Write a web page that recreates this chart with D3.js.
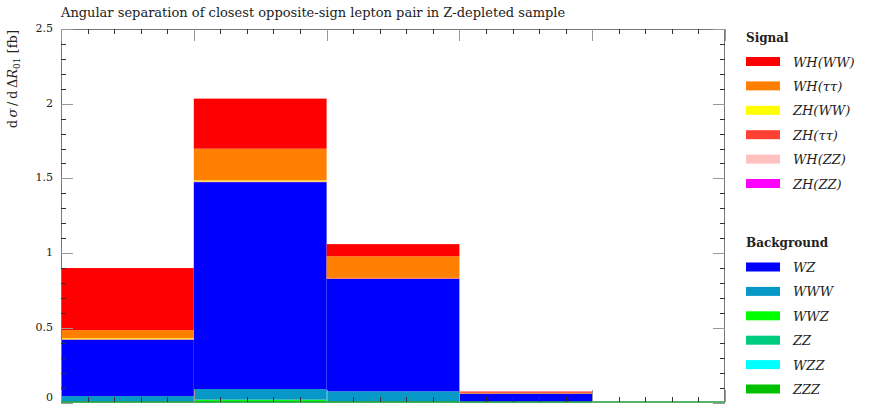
<!DOCTYPE html>
<html>
<head>
<meta charset="utf-8">
<script src="https://cdn.jsdelivr.net/npm/d3@7"></script>
<style>
  body { margin: 0; background: #fff; }
  svg text { font-family: "DejaVu Serif", "Liberation Serif", serif; fill: #222; }
</style>
</head>
<body>
<div id="chart"></div>
<script>
/*
 *  DATA
 */

var binEdges = [0, 1, 2, 3, 4, 5];

// background (bottom of the stack first)
var zzz = [0.001, 0.002, 0.001, 0.000, 0];
var wzz = [0.000, 0.001, 0.000, 0.000, 0];
var zz = [0.001, 0.004, 0.001, 0.001, 0];
var wwz = [0.003, 0.012, 0.004, 0.001, 0];
var www = [0.038, 0.071, 0.069, 0.004, 0];
var wz = [0.377, 1.385, 0.753, 0.053, 0];

// signal
var zhZZ = [0.001, 0.001, 0.000, 0.000, 0];
var whZZ = [0.001, 0.002, 0.001, 0.000, 0];
var zhTauTau = [0.002, 0.002, 0.004, 0.001, 0];
var zhWW = [0.006, 0.007, 0.001, 0.000, 0];
var whTauTau = [0.055, 0.212, 0.145, 0.007, 0];
var whWW = [0.415, 0.335, 0.081, 0.006, 0];

var signalNames = ["WH(WW)", "WH(ττ)", "ZH(WW)", "ZH(ττ)", "WH(ZZ)", "ZH(ZZ)"];
var signalColors = ["#ff0000", "#ff8000", "#ffff00", "#ff4033", "#ffc0c0", "#ff00ff"];
var signalValues = [whWW, whTauTau, zhWW, zhTauTau, whZZ, zhZZ];

var backgroundNames = ["WZ", "WWW", "WWZ", "ZZ", "WZZ", "ZZZ"];
var backgroundColors = ["#0000ff", "#0898c8", "#00ff00", "#00cc80", "#00ffff", "#00c000"];
var backgroundValues = [wz, www, wwz, zz, wzz, zzz];

var yTicks = [0, 0.5, 1, 1.5, 2, 2.5];

var titleText = "Angular separation of closest opposite-sign lepton pair in Z-depleted sample";


/*
 *  CHART
 */

var width = 872;
var height = 405;

var margin = {
    top: 29,
    bottom: 3,
    left: 61,
    right: 147
};

var innerW = width - margin.left - margin.right;
var innerH = height - margin.top - margin.bottom;

var svg = d3.select('#chart')
    .append('svg')
    .attr('width', width)
    .attr('height', height);

var g = svg.append('g')
    .attr('transform', 'translate(' + margin.left + ',' + margin.top + ')');

var x_scale = d3.scaleLinear()
    .domain([binEdges[0], binEdges[binEdges.length - 1]])
    .range([0, innerW]);

var y_scale = d3.scaleLinear()
    .domain([0, 2.5])
    .range([innerH + 0.5, 0]);

// stack order: background bottom-up, then signal bottom-up
var layers = [];
for (var i = backgroundNames.length - 1; i >= 0; i--) {
    layers.push({ name: backgroundNames[i], color: backgroundColors[i], values: backgroundValues[i] });
}
for (var i = signalNames.length - 1; i >= 0; i--) {
    layers.push({ name: signalNames[i], color: signalColors[i], values: signalValues[i] });
}

var bins = binEdges.slice(0, -1).map(function(lo, b) {
    var row = { lo: lo, hi: binEdges[b + 1] };
    layers.forEach(function(l) { row[l.name] = l.values[b]; });
    return row;
});

var stack = d3.stack()
    .keys(layers.map(function(l) { return l.name; }));

var series = stack(bins);

g.selectAll('g.layer')
    .data(series)
    .enter()
    .append('g')
    .attr('class', 'layer')
    .attr('fill', function(d, i) { return layers[i].color; })
    .selectAll('rect')
    .data(function(d) { return d; })
    .enter()
    .append('rect')
    .attr('x', function(d) { return x_scale(d.data.lo); })
    .attr('width', function(d) { return x_scale(d.data.hi) - x_scale(d.data.lo); })
    .attr('y', function(d) { return y_scale(d[1]); })
    .attr('height', function(d) { return Math.max(0, y_scale(d[0]) - y_scale(d[1])); });

// baseline drawn in the ZZZ colour, like the reference
g.append('line')
    .attr('x1', x_scale(binEdges[0]))
    .attr('x2', x_scale(binEdges[binEdges.length - 1]))
    .attr('y1', y_scale(0) - 0.5)
    .attr('y2', y_scale(0) - 0.5)
    .attr('stroke', '#1f9a3a')
    .attr('stroke-width', 1.5);

// frame
g.append('path')
    .attr('d', 'M0.5,' + innerH + 'V0.5H' + (innerW - 0.5) + 'V' + innerH)
    .attr('fill', 'none')
    .attr('stroke', '#777')
    .attr('stroke-width', 1);

// y ticks (left and right)
var yMinor = d3.range(0, 2.5001, 0.1);
yMinor.forEach(function(v) {
    var major = Math.abs(v * 2 - Math.round(v * 2)) < 1e-6;
    var len = major ? 12 : 5;
    var yy = Math.round(y_scale(v)) + 0.5;
    g.append('line')
        .attr('x1', 0).attr('x2', len)
        .attr('y1', yy).attr('y2', yy)
        .attr('stroke', major ? '#999' : '#333');
    g.append('line')
        .attr('x1', innerW).attr('x2', innerW - len)
        .attr('y1', yy).attr('y2', yy)
        .attr('stroke', major ? '#999' : '#333');
});

// x ticks (top and bottom)
var xMinor = d3.range(0, 5.0001, 0.2);
xMinor.forEach(function(v) {
    var major = Math.abs(v - Math.round(v)) < 1e-6;
    var len = major ? 12 : 5;
    var xx = Math.round(x_scale(v)) + 0.5;
    g.append('line')
        .attr('x1', xx).attr('x2', xx)
        .attr('y1', 0).attr('y2', len)
        .attr('stroke', major ? '#999' : '#333');
    g.append('line')
        .attr('x1', xx).attr('x2', xx)
        .attr('y1', innerH).attr('y2', innerH - len)
        .attr('stroke', major ? '#999' : '#333');
});

// y tick labels (the 0 sits at the very bottom edge, lift it a bit so it stays whole)
g.selectAll('text.ytick')
    .data(yTicks)
    .enter()
    .append('text')
    .attr('class', 'ytick')
    .attr('x', -8)
    .attr('y', function(d) { return d === 0 ? y_scale(d) - 2 : y_scale(d) + 3; })
    .attr('text-anchor', 'end')
    .style('font-size', '11px')
    .text(function(d) { return d; });

// title
svg.append('text')
    .attr('x', margin.left)
    .attr('y', 17)
    .style('font-size', '13px')
    .text(titleText);

// y axis label
var ylab = svg.append('text')
    .attr('transform', 'translate(17,' + (margin.top + 1) + ')rotate(-90)')
    .attr('text-anchor', 'end')
    .style('font-size', '13px');
ylab.append('tspan').text('d\u2009');
ylab.append('tspan').style('font-style', 'italic').text('σ');
ylab.append('tspan').text('\u2009/\u2009d\u2009Δ');
ylab.append('tspan').style('font-style', 'italic').text('R');
ylab.append('tspan').attr('dy', 3).style('font-size', '9px').text('01');
ylab.append('tspan').attr('dy', -3).text(' [fb]');

// legend
function legend(title, names, colors, top) {
    var lg = svg.append('g')
        .attr('transform', 'translate(746,' + top + ')');
    lg.append('text')
        .attr('x', 0)
        .attr('y', 0)
        .style('font-size', '12px')
        .style('font-weight', 'bold')
        .text(title);
    var rows = lg.selectAll('g.row')
        .data(names)
        .enter()
        .append('g')
        .attr('class', 'row')
        .attr('transform', function(d, i) { return 'translate(0,' + (20 + i * 24.4) + ')'; });
    rows.append('rect')
        .attr('x', 0)
        .attr('y', -4.5)
        .attr('width', 34)
        .attr('height', 9)
        .attr('fill', function(d, i) { return colors[i]; });
    rows.append('text')
        .attr('x', 47)
        .attr('y', 5)
        .style('font-size', '13px')
        .style('font-style', 'italic')
        .text(function(d) { return d; });
}

legend('Signal', signalNames, signalColors, 41.5);
legend('Background', backgroundNames, backgroundColors, 247);
</script>
</body>
</html>
